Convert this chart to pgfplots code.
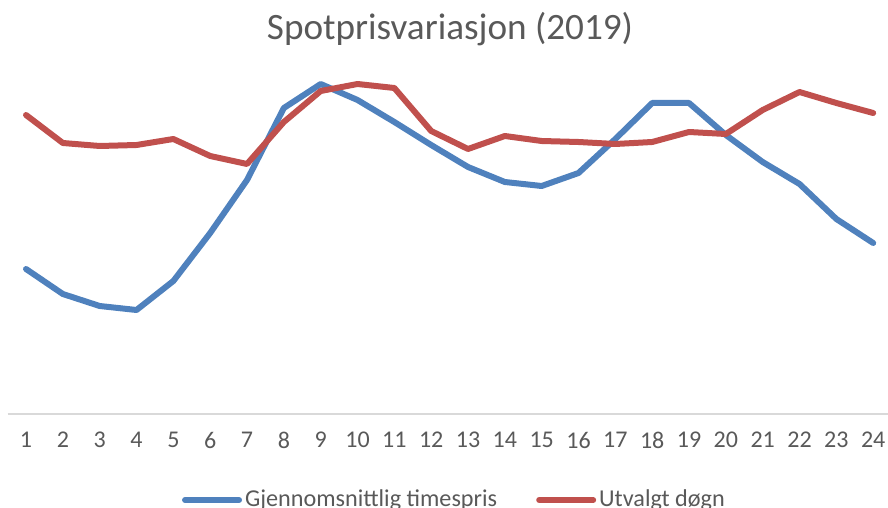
\documentclass[border=0pt]{standalone}
\usepackage{pgfplots}
\pgfplotsset{compat=1.18}
\usepackage{fontspec}
\setmainfont{Carlito}
\usepackage{xcolor}
\definecolor{xlblue}{HTML}{4F81BD}
\definecolor{xlred}{HTML}{C0504D}
\definecolor{xltext}{HTML}{595959}
\definecolor{xlaxis}{HTML}{D9D9D9}

\begin{document}
\begin{tikzpicture}
\begin{axis}[
  scale only axis,
  width=442pt,
  height=177pt,
  xmin=0.5, xmax=24.5,
  ymin=0, ymax=354,
  axis x line=bottom,
  axis y line=none,
  axis line style={xlaxis, line width=1pt, -},
  xtick={1,...,24},
  xtick style={draw=none},
  ytick=\empty,
  /pgf/number format/assume math mode=true,
  tick label style={font=\fontsize{12}{14}\selectfont, text=xltext},
  xticklabel style={yshift=-3.5pt},
  title={Spotprisvariasjon (2019)},
  title style={font=\fontsize{18.6}{22}\selectfont, text=xltext, at={(0.5005,1)}, anchor=center, yshift=9.5pt},
  legend columns=2,
  legend style={at={(0.506,-0.243)}, anchor=center, draw=none, fill=none,
    font=\fontsize{12.1}{14}\selectfont, text=xltext,
    nodes={inner xsep=1.5pt},
    /tikz/every even column/.append style={column sep=18pt}},
  legend image code/.code={\draw[#1, line cap=round] (0pt,0pt) -- (27pt,0pt);},
  every axis plot/.append style={line width=3pt, line join=round, line cap=round},
]
\addplot[xlblue] coordinates {
  (1,145)(2,120)(3,108)(4,104)(5,133)(6,181)(7,234)(8,306)(9,330)(10,314)(11,292)(12,269)
  (13,247)(14,232)(15,228)(16,241)(17,275)(18,311)(19,311)(20,279)(21,252)(22,230)(23,195)(24,171)
};
\addlegendentry{Gjennomsnittlig timespris}
\addplot[xlred] coordinates {
  (1,299)(2,271)(3,268)(4,269)(5,275)(6,258)(7,250)(8,292)(9,323)(10,330)(11,326)(12,283)
  (13,265)(14,278)(15,273)(16,272)(17,270)(18,272)(19,282)(20,280)(21,304)(22,322)(23,311)(24,301)
};
\addlegendentry{Utvalgt døgn}
\end{axis}
\pgfresetboundingbox
\path[use as bounding box] (-3.8pt,-47pt) rectangle (440.2pt,207pt);
\end{tikzpicture}
\end{document}
